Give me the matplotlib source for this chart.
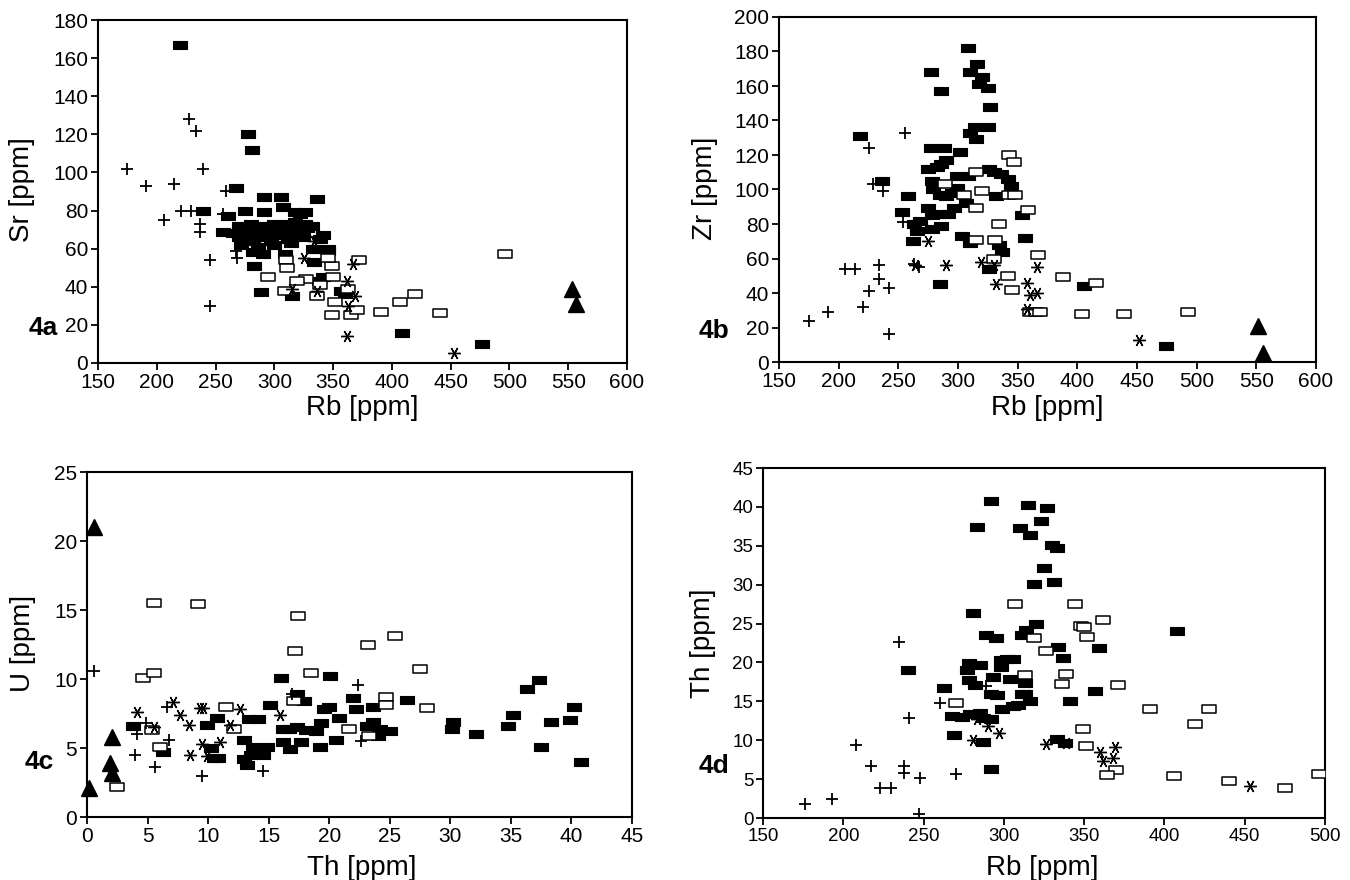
import matplotlib
matplotlib.use('Agg')
import matplotlib.pyplot as plt
from matplotlib.path import Path

plt.rcParams['font.family'] = ['Liberation Sans', 'DejaVu Sans']

# ---------------- 4a : Sr vs Rb ----------------
a_fill_rb = [220, 278, 281, 267, 239, 261, 275, 291, 291, 306, 307, 336, 326, 332, 341, 346, 335, 334,
             341, 357, 360, 409, 477, 256, 282, 290, 283, 289, 309, 315, 333, 338, 339, 346,
             265, 270, 274, 278, 282, 285, 289, 293, 297, 300, 304, 308, 312, 316, 320, 324, 328,
             270, 280, 290, 300, 310, 318, 326, 272, 286, 300, 314, 322, 318, 296, 276]
a_fill_sr = [167, 120, 112, 92, 80, 77, 80, 87, 79, 87, 82, 86, 79, 72, 67, 60, 60, 53,
             45, 38, 36, 16, 10, 69, 58, 57, 51, 37, 57, 35, 60, 43, 65, 59,
             68, 66, 70, 67, 64, 70, 66, 68, 64, 70, 67, 72, 65, 68, 70, 66, 71,
             72, 73, 72, 73, 73, 74, 73, 62, 61, 62, 63, 78, 79, 70, 64]
a_open_rb = [496, 420, 407, 441, 391, 372, 349, 346, 350, 352, 363, 349, 365, 370, 336, 339, 327,
             295, 310, 311, 319, 309]
a_open_sr = [57, 36, 32, 26, 27, 54, 51, 55, 45, 32, 39, 25, 25, 28, 35, 41, 44,
             45, 54, 50, 43, 38]
a_plus_rb = [175, 191, 206, 215, 227, 233, 239, 221, 229, 237, 237, 245, 245, 259, 256, 267, 268, 287]
a_plus_sr = [102, 93, 75, 94, 128, 122, 102, 80, 80, 73, 69, 54, 30, 90, 78, 59, 55, 62]
a_ast_rb = [367, 362, 369, 363, 362, 453, 325, 336, 315, 334]
a_ast_sr = [52, 43, 35, 30, 14, 5, 55, 38, 39, 64]
a_tri_rb = [553, 557]
a_tri_sr = [39, 31]

# ---------------- 4b : Zr vs Rb ----------------
b_fill_rb = [218, 236, 258, 253, 263, 266, 268, 262, 277, 286, 277, 288, 275, 282, 286, 290, 278, 279,
             285, 275, 278, 286, 278, 284, 292, 290, 297, 299, 299, 295, 302, 308, 310, 316, 320, 318,
             325, 327, 314, 310, 315, 325, 308, 307, 303, 310, 326, 332, 334, 326, 285, 330, 336, 342,
             344, 354, 356, 337, 406, 474]
b_fill_zr = [131, 105, 96, 87, 80, 76, 82, 70, 168, 157, 124, 124, 112, 113, 115, 117, 105, 100,
             97, 89, 85, 79, 77, 86, 86, 96, 89, 108, 101, 98, 122, 182, 168, 173, 165, 161,
             159, 148, 136, 133, 129, 136, 108, 92, 73, 69, 112, 96, 68, 54, 45, 110, 109, 106,
             102, 85, 72, 64, 44, 9]
b_open_rb = [343, 347, 343, 348, 359, 334, 331, 367, 388, 416, 342, 345, 360, 365, 369, 404, 439, 493,
             289, 305, 315, 315, 320, 330, 315]
b_open_zr = [120, 116, 97, 97, 88, 80, 71, 62, 49, 46, 50, 42, 29, 29, 29, 28, 28, 29,
             103, 97, 110, 89, 99, 60, 71]
b_plus_rb = [175, 191, 205, 214, 225, 220, 234, 234, 242, 242, 225, 229, 237, 256, 254, 263, 267]
b_plus_zr = [24, 29, 54, 54, 41, 32, 56, 48, 43, 16, 124, 103, 99, 133, 81, 57, 55]
b_ast_rb = [366, 358, 360, 366, 358, 452, 332, 330, 275, 290, 319, 264]
b_ast_zr = [55, 46, 39, 40, 31, 13, 45, 56, 70, 56, 58, 56]
b_tri_rb = [551, 556]
b_tri_zr = [21, 5]

# ---------------- 4c : U vs Th ----------------
c_fill_th = [3.8, 6.3, 9.9, 10.7, 10.2, 10.5, 10.8, 13.0, 13.0, 13.2, 13.5, 13.7, 13.4, 14.1, 14.5, 14.9,
             15.1, 16.0, 16.2, 16.7, 16.2, 16.8, 17.3, 17.3, 17.7, 17.9, 18.1, 18.9, 19.2, 19.3, 19.6,
             20.1, 20.0, 20.8, 20.6, 22.0, 22.2, 23.6, 23.1, 23.6, 24.0, 25.0, 24.2, 26.4, 30.2, 30.1,
             32.1, 34.8, 35.2, 36.3, 37.3, 37.5, 38.3, 39.9, 40.2, 40.8]
c_fill_u = [6.6, 4.7, 6.7, 7.2, 5.0, 4.3, 4.3, 5.6, 4.2, 3.8, 4.5, 5.1, 7.1, 7.1, 4.5, 5.1,
            8.1, 10.1, 6.4, 6.4, 5.4, 4.9, 6.5, 8.9, 5.4, 8.4, 6.3, 6.2, 5.1, 6.8, 7.8,
            10.2, 8.0, 7.2, 5.6, 8.6, 7.8, 8.0, 6.6, 6.9, 5.9, 6.2, 6.4, 8.5, 6.9, 6.4,
            6.0, 6.6, 7.4, 9.3, 9.9, 5.1, 6.9, 7.0, 8.0, 4.0]
c_open_th = [5.5, 9.2, 17.4, 17.2, 18.5, 4.6, 5.5, 5.4, 6.0, 11.5, 12.1, 17.1, 2.5, 25.4, 23.2, 27.5,
             28.1, 24.7, 24.7, 21.6, 23.3]
c_open_u = [15.5, 15.4, 14.6, 12.0, 10.4, 10.1, 10.4, 6.3, 5.1, 8.0, 6.4, 8.4, 2.2, 13.1, 12.5, 10.7,
            7.9, 8.7, 8.1, 6.4, 5.9]
c_plus_th = [0.6, 4.1, 4.0, 4.9, 5.6, 6.6, 6.8, 9.5, 14.5, 16.9, 22.4, 22.6]
c_plus_u = [10.6, 6.0, 4.5, 6.8, 3.6, 8.0, 5.6, 3.0, 3.3, 8.9, 9.6, 5.5]
c_ast_th = [4.1, 7.1, 7.7, 8.4, 8.5, 9.3, 9.6, 9.5, 9.9, 11.0, 11.8, 12.6, 15.9, 5.5]
c_ast_u = [7.6, 8.3, 7.4, 6.7, 4.5, 7.9, 7.9, 5.3, 4.4, 5.4, 6.7, 7.8, 7.4, 6.5]
c_tri_th = [0.6, 0.2, 2.1, 1.9, 2.1]
c_tri_u = [21.0, 2.1, 5.8, 3.9, 3.2]

# ---------------- 4d : Th vs Rb ----------------
d_fill_rb = [292, 283, 310, 281, 289, 295, 311, 240, 263, 278, 285, 277, 278, 282, 293, 298, 306, 298,
             304, 292, 296, 299, 306, 268, 274, 279, 285, 287, 292, 269, 287, 292, 311,
             315, 327, 323, 316, 330, 333, 325, 319, 331, 320, 314, 334, 337, 359, 408, 302, 313,
             313, 357, 341, 316, 309, 333, 338]
d_fill_th = [40.7, 37.4, 37.3, 26.4, 23.5, 23.1, 23.5, 19.0, 16.7, 19.9, 19.7, 19.0, 17.7, 17.1, 18.1,
             20.3, 20.4, 19.4, 17.9, 16.0, 15.8, 14.0, 14.4, 13.1, 13.0, 13.4, 13.5, 12.8, 12.7, 10.7,
             9.8, 6.3, 16.0,
             40.3, 39.8, 38.2, 36.4, 35.1, 34.7, 32.1, 30.1, 30.3, 25.0, 24.2, 22.0, 20.6, 21.9, 24.1,
             20.5, 17.3, 16.0, 16.3, 15.0, 15.0, 14.5, 10.1, 9.7]
d_open_rb = [270, 307, 344, 362, 348, 350, 352, 319, 326, 313, 339, 336, 371, 391, 428, 419, 349, 351,
             370, 364, 406, 440, 475, 496]
d_open_th = [14.8, 27.5, 27.5, 25.5, 24.7, 24.5, 23.3, 23.1, 21.5, 18.4, 18.5, 17.2, 17.1, 14.0, 14.0,
             12.1, 11.4, 9.2, 6.2, 5.5, 5.4, 4.7, 3.8, 5.6]
d_plus_rb = [176, 193, 208, 217, 223, 230, 235, 238, 238, 241, 248, 247, 260, 270, 289]
d_plus_th = [1.8, 2.4, 9.4, 6.7, 3.8, 3.8, 22.6, 6.7, 5.8, 12.9, 5.2, 0.5, 14.8, 5.7, 17.0]
d_ast_rb = [281, 283, 290, 297, 326, 339, 360, 369, 362, 368, 453, 314]
d_ast_th = [10.0, 12.7, 11.8, 10.9, 9.5, 9.6, 8.5, 9.1, 7.3, 7.7, 4.1, 15.8]

W, H = 1350, 880
fig = plt.figure(figsize=(W / 100, H / 100), dpi=100)


def add_ax(l, r, t, b):
    return fig.add_axes([l / W, 1 - b / H, (r - l) / W, (b - t) / H])


def rect_path(h):
    return Path([(-1, -h), (1, -h), (1, h), (-1, h), (-1, -h)],
                [Path.MOVETO, Path.LINETO, Path.LINETO, Path.LINETO, Path.CLOSEPOLY])


RF = rect_path(0.6)
RO = rect_path(0.62)


def draw(ax, fill, opn, plus, ast, tri=None):
    ax.plot(*fill, ls='none', marker=RF, ms=10.5, mfc='k', mec='k', mew=0.8, zorder=3)
    ax.plot(*opn, ls='none', marker=RO, ms=9.5, mfc='white', mec='k', mew=1.1, zorder=4)
    ax.plot(*plus, ls='none', marker='+', ms=9, mec='k', mew=1.3, zorder=5)
    ax.plot(*ast, ls='none', marker=(6, 2, 90), ms=9, mec='k', mew=1.0, zorder=5)
    if tri is not None:
        ax.plot(*tri, ls='none', marker='^', ms=11, mfc='k', mec='k', zorder=5)


def style(ax, xlim, ylim, xt, yt, fs):
    ax.set_xlim(*xlim)
    ax.set_ylim(*ylim)
    ax.set_xticks(xt)
    ax.set_yticks(yt)
    for s in ax.spines.values():
        s.set_linewidth(1.5)
    ax.tick_params(direction='out', length=5, width=1.3, labelsize=fs, pad=2,
                   top=False, right=False)


axA = add_ax(98, 627, 20, 363)
draw(axA, (a_fill_rb, a_fill_sr), (a_open_rb, a_open_sr), (a_plus_rb, a_plus_sr),
     (a_ast_rb, a_ast_sr), (a_tri_rb, a_tri_sr))
style(axA, (150, 600), (0, 180), range(150, 601, 50), range(0, 181, 20), 15)

axB = add_ax(779, 1316, 17, 362)
draw(axB, (b_fill_rb, b_fill_zr), (b_open_rb, b_open_zr), (b_plus_rb, b_plus_zr),
     (b_ast_rb, b_ast_zr), (b_tri_rb, b_tri_zr))
style(axB, (150, 600), (0, 200), range(150, 601, 50), range(0, 201, 20), 15)

axC = add_ax(87, 632, 472, 817)
draw(axC, (c_fill_th, c_fill_u), (c_open_th, c_open_u), (c_plus_th, c_plus_u),
     (c_ast_th, c_ast_u), (c_tri_th, c_tri_u))
style(axC, (0, 45), (0, 25), range(0, 46, 5), range(0, 26, 5), 15)
for m in axC.lines:
    m.set_clip_on(False)

axD = add_ax(763, 1325, 468, 818)
draw(axD, (d_fill_rb, d_fill_th), (d_open_rb, d_open_th), (d_plus_rb, d_plus_th),
     (d_ast_rb, d_ast_th))
style(axD, (150, 500), (0, 45), range(150, 501, 50), range(0, 46, 5), 13.5)


def ftxt(x, y, s, **kw):
    fig.text(x / W, 1 - y / H, s, ha='center', va='center', **kw)


ftxt(22, 190, 'Sr [ppm]', fontsize=20, rotation=90)
ftxt(705, 188, 'Zr [ppm]', fontsize=20, rotation=90)
ftxt(23, 643, 'U [ppm]', fontsize=20, rotation=90)
ftxt(703, 643, 'Th [ppm]', fontsize=20, rotation=90)
ftxt(362, 408, 'Rb [ppm]', fontsize=20)
ftxt(1047, 408, 'Rb [ppm]', fontsize=20)
ftxt(362, 868, 'Th [ppm]', fontsize=20)
ftxt(1042, 868, 'Rb [ppm]', fontsize=20)
ftxt(43, 328, '4a', fontsize=19, fontweight='bold')
ftxt(714, 331, '4b', fontsize=19, fontweight='bold')
ftxt(39, 762, '4c', fontsize=19, fontweight='bold')
ftxt(714, 766, '4d', fontsize=19, fontweight='bold')

fig.savefig('out.png', dpi=100, facecolor='white')
